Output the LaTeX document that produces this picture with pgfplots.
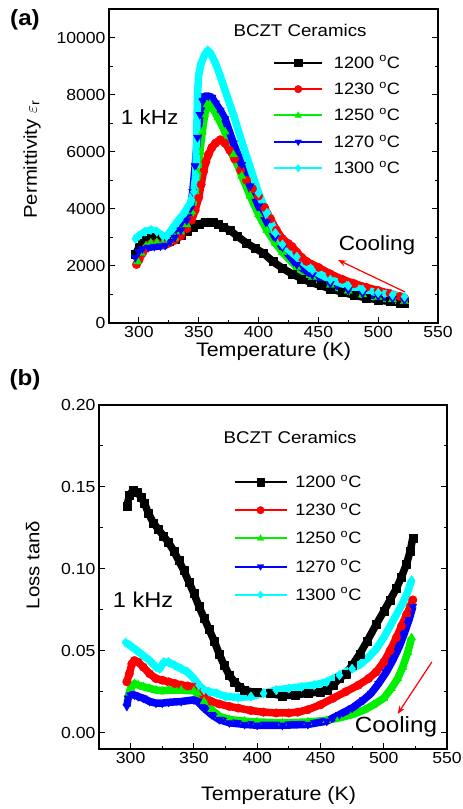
\documentclass[border=0pt]{standalone}
\usepackage{fontspec}
\setmainfont{Liberation Sans}[FakeStretch=1.1]
\usepackage{pgfplots}
\pgfplotsset{compat=1.18}
\usetikzlibrary{arrows.meta}

\definecolor{cgreen}{RGB}{0,240,0}
\definecolor{ccyan}{RGB}{0,255,255}
\definecolor{cred}{RGB}{255,0,0}
\definecolor{cblue}{RGB}{0,0,255}

\newcommand{\fs}[1]{\fontsize{#1}{#1}\selectfont}

\pgfplotsset{
  panel/.style={
    scale only axis,
    axis line style={line width=1.3pt},
    every tick/.style={black, line width=1pt},
    major tick length=6pt, minor tick length=3.5pt,
    xtick pos=left, ytick pos=both,
    minor x tick num=1, minor y tick num=1,
    tick label style={font=\fs{16}},
    /pgf/number format/assume math mode=true,
    xlabel style={font=\fs{19.5}},
    ylabel style={font=\fs{18.5}},
    scaled y ticks=false,
    legend cell align=left,
  },
  sA/.style={black, line width=7.5pt, line join=round, mark=square*, mark size=4pt,
    mark options={solid, line width=0.3pt}},
  sB/.style={cred, line width=7.5pt, line join=round, mark=*, mark size=4.3pt,
    mark options={solid, line width=0.3pt}},
  sC/.style={cgreen, line width=7.5pt, line join=round, mark=triangle*, mark size=4.8pt,
    mark options={solid, line width=0.3pt}},
  sD/.style={cblue, line width=7.5pt, line join=round, mark=triangle*, mark size=4.8pt,
    mark options={solid, line width=0.3pt, rotate=180}},
  sE/.style={ccyan, line width=7.5pt, line join=round, mark=diamond*, mark size=4.8pt,
    mark options={solid, line width=0.3pt}},
  lega/.style={legend image code/.code={
    \draw[##1, line width=2pt, mark repeat=2, mark phase=2, mark size=3.8pt]
      plot coordinates {(0pt,0pt) (24pt,0pt) (48pt,0pt)};
    \path (55pt,0pt);}},
  legb/.style={legend image code/.code={
    \draw[##1, line width=2pt, mark repeat=2, mark phase=2, mark size=3.8pt]
      plot coordinates {(0pt,0pt) (26pt,0pt) (52pt,0pt)};
    \path (56pt,0pt);}},
}

\begin{document}
\begin{tikzpicture}
\useasboundingbox (0pt,0pt) rectangle (463pt,-809pt);

\node[font=\bfseries\fs{22}] at (25pt,-20pt) {(a)};
\node[font=\bfseries\fs{22}] at (25pt,-380pt) {(b)};

% ---------- (a) permittivity ----------
\begin{axis}[panel,
  at={(109pt,-9pt)}, anchor=north west,
  width=329pt, height=314pt,
  xmin=275, xmax=550, ymin=0, ymax=11000,
  xtick={300,350,...,550}, ytick={0,2000,...,10000},
  /pgf/number format/1000 sep={},
  xlabel={Temperature (K)},
  ylabel={Permittivity $\varepsilon_{\mathrm{r}}$},
  xlabel style={at={(axis description cs:0.5,-0.092)}, anchor=center},
  ylabel style={at={(axis description cs:-0.234,0.52)}, anchor=center},
  legend style={at={(axis description cs:0.4985,0.855)}, anchor=north west,
    draw=none, fill=none, inner sep=0pt, row sep=10.4pt, font=\fs{16.5},
    nodes={inner sep=1pt}},
]
\addplot[sA, lega] coordinates {
(297,2400)(300,2650)(303,2800)(306,2900)(310,2980)(313,3000)(316,2950)(320,2880)
(325,2870)(330,2950)(335,3080)(340,3220)(345,3350)(350,3460)(355,3540)(358,3550)
(362,3520)(366,3460)(370,3370)(376,3250)(382,3050)(390,2800)(397,2620)(404,2450)
(412,2150)(420,1920)(428,1720)(436,1550)(444,1420)(452,1310)(460,1200)(470,1080)
(480,970)(490,880)(500,810)(510,750)(518,710)(522,690)
};
\addlegendentry{1200 \textsuperscript{o}C}
\addplot[sB, lega] coordinates {
(298,2050)(300,2200)(303,2450)(306,2650)(310,2780)(315,2800)(320,2760)(325,2800)
(330,2900)(335,3050)(340,3300)(344,3600)(347,3950)(350,4400)(352,4850)(354,5300)
(356,5650)(358,5900)(361,6150)(364,6300)(368,6420)(372,6300)(376,6050)(380,5750)
(385,5350)(390,5000)(395,4700)(400,4450)(405,4050)(410,3650)(415,3250)(420,2950)
(425,2780)(428,2680)(432,2480)(436,2300)(440,2160)(450,1950)(460,1720)(470,1530)
(480,1380)(490,1250)(500,1140)(510,1030)(518,930)(522,870)
};
\addlegendentry{1230 \textsuperscript{o}C}
\addplot[sC, lega] coordinates {
(299,2150)(302,2450)(306,2700)(310,2800)(315,2820)(320,2780)(325,2850)(330,2980)
(335,3200)(340,3450)(344,3900)(347,4600)(349,5300)(351,6000)(353,6700)(355,7300)
(357,7650)(359,7700)(362,7500)(366,7200)(372,6700)(379,5900)(386,5150)(393,4450)
(400,3800)(407,3250)(414,2800)(420,2480)(432,1950)(445,1600)(460,1330)(475,1120)
(487,1000)(500,900)(512,820)(522,760)
};
\addlegendentry{1250 \textsuperscript{o}C}
\addplot[sD, lega] coordinates {
(297,2300)(300,2500)(303,2600)(308,2650)(313,2680)(318,2700)(322,2720)(326,2850)
(330,3000)(335,3250)(340,3600)(343,4000)(345,4600)(347,5500)(349,6500)(351,7300)
(353,7800)(355,7950)(358,7950)(361,7900)(364,7700)(368,7450)(372,7150)(379,6300)
(386,5550)(393,4800)(400,4100)(407,3550)(414,3000)(420,2650)(432,2050)(445,1680)
(460,1380)(475,1160)(487,1040)(500,940)(512,860)(522,800)
};
\addlegendentry{1270 \textsuperscript{o}C}
\addplot[sE, lega] coordinates {
(297,2950)(300,3050)(305,3200)(310,3260)(315,3200)(320,3050)(323,3030)(327,3250)
(332,3550)(337,3800)(340,4000)(343,4200)(346,4600)(347.5,5200)(348,6000)(348.5,7000)
(349,8000)(350,8700)(352,9100)(355,9400)(357.5,9550)(360,9450)(364,9100)(368,8650)
(372,8150)(379,7300)(386,6350)(393,5450)(400,4550)(407,3850)(414,3150)(420,2750)
(432,2320)(445,1850)(460,1520)(475,1300)(487,1170)(500,1060)(512,985)(522,920)
};
\addlegendentry{1300 \textsuperscript{o}C}
\node[font=\fs{17}] at (axis cs:434.7,10263) {BCZT Ceramics};
\node[font=\fs{20.5}] at (axis cs:309,7215) {1 kHz};
\node[font=\fs{20.5}] at (axis cs:499,2732) {Cooling};
\draw[cred, line width=1.2pt, -{Stealth[length=8pt,width=6pt]}]
  (axis cs:522.5,1086) -- (axis cs:466.5,2207);
\end{axis}

% ---------- (b) loss ----------
\begin{axis}[panel,
  at={(99pt,-405pt)}, anchor=north west,
  width=348pt, height=344pt,
  xmin=275, xmax=550, ymin=-0.01, ymax=0.2,
  xtick={300,350,...,550}, ytick={0,0.05,0.1,0.15,0.2},
  yticklabel style={/pgf/number format/.cd, fixed, fixed zerofill, precision=2},
  xlabel={Temperature (K)},
  ylabel={Loss tanδ},
  xlabel style={at={(axis description cs:0.516,-0.134)}, anchor=center},
  ylabel style={at={(axis description cs:-0.19,0.535)}, anchor=center},
  legend style={at={(axis description cs:0.386,0.8)}, anchor=north west,
    draw=none, fill=none, inner sep=0pt, row sep=12.2pt, font=\fs{16.5},
    nodes={inner sep=1pt}},
]
\addplot[sA, legb] coordinates {
(297,0.138)(299,0.145)(302,0.148)(305,0.147)(308,0.144)(311,0.140)(314,0.134)
(318,0.128)(322,0.124)(326,0.120)(330,0.116)(334,0.111)(338,0.105)(342,0.099)
(346,0.092)(350,0.085)(354,0.077)(358,0.070)(362,0.063)(366,0.056)(370,0.048)
(374,0.041)(378,0.035)(382,0.031)(386,0.028)(390,0.026)(395,0.025)(400,0.0245)
(410,0.024)(420,0.0225)(430,0.023)(440,0.024)(450,0.025)(455,0.026)(460,0.029)
(465,0.033)(470,0.036)(475,0.041)(481,0.048)(487,0.056)(494,0.066)(500,0.074)
(505,0.081)(510,0.088)(514,0.095)(518,0.103)(521,0.111)(523,0.119)
};
\addlegendentry{1200 \textsuperscript{o}C}
\addplot[sB, legb] coordinates {
(297,0.031)(299,0.036)(301,0.042)(303,0.044)(306,0.043)(310,0.040)(315,0.036)
(320,0.033)(325,0.032)(330,0.031)(335,0.030)(340,0.029)(345,0.0285)(350,0.028)
(354,0.025)(358,0.022)(364,0.019)(370,0.0175)(378,0.016)(385,0.015)(395,0.0135)
(405,0.0125)(415,0.012)(425,0.012)(432,0.0125)(440,0.014)(450,0.017)(460,0.021)
(470,0.025)(480,0.029)(488,0.033)(494,0.037)(500,0.043)(505,0.050)(510,0.058)
(514,0.065)(518,0.072)(521,0.077)(523,0.081)
};
\addlegendentry{1230 \textsuperscript{o}C}
\addplot[sC, legb] coordinates {
(298,0.022)(300,0.027)(303,0.030)(306,0.029)(310,0.028)(315,0.027)(320,0.026)
(325,0.0255)(330,0.026)(340,0.026)(350,0.0255)(353,0.024)(358,0.019)(364,0.014)
(370,0.010)(378,0.008)(390,0.007)(400,0.0065)(420,0.006)(440,0.0065)(455,0.0075)
(465,0.009)(475,0.011)(485,0.014)(492,0.017)(500,0.021)(506,0.027)(511,0.033)
(515,0.040)(519,0.049)(522,0.058)
};
\addlegendentry{1250 \textsuperscript{o}C}
\addplot[sD, legb] coordinates {
(297,0.016)(298,0.021)(300,0.023)(303,0.023)(306,0.022)(310,0.021)(315,0.019)
(320,0.018)(325,0.018)(330,0.0185)(340,0.019)(350,0.020)(353,0.019)(358,0.015)
(364,0.011)(370,0.008)(378,0.006)(390,0.005)(400,0.0045)(420,0.0045)(440,0.005)
(455,0.007)(465,0.011)(475,0.015)(484,0.020)(490,0.024)(496,0.030)(502,0.037)
(507,0.044)(512,0.052)(516,0.060)(520,0.069)(523,0.077)
};
\addlegendentry{1270 \textsuperscript{o}C}
\addplot[sE, legb] coordinates {
(296,0.055)(300,0.053)(305,0.050)(310,0.047)(315,0.044)(320,0.040)(323,0.039)
(326,0.043)(330,0.043)(335,0.041)(340,0.039)(345,0.037)(350,0.033)(354,0.029)
(358,0.026)(362,0.025)(368,0.024)(375,0.022)(385,0.0215)(395,0.022)(405,0.024)
(415,0.026)(425,0.027)(435,0.028)(445,0.029)(455,0.031)(465,0.035)(475,0.039)
(482,0.042)(488,0.046)(494,0.051)(500,0.058)(505,0.065)(510,0.072)(515,0.079)
(519,0.086)(522,0.093)
};
\addlegendentry{1300 \textsuperscript{o}C}
\node[font=\fs{17}] at (axis cs:426,0.1805) {BCZT Ceramics};
\node[font=\fs{21.5}] at (axis cs:309.8,0.081) {1 kHz};
\node[font=\fs{22}] at (axis cs:509.7,0.0034) {Cooling};
\draw[cred, line width=1.2pt, -{Stealth[length=8pt,width=6pt]}]
  (axis cs:538,0.0431) -- (axis cs:511,0.0114);
\end{axis}
\end{tikzpicture}
\end{document}
